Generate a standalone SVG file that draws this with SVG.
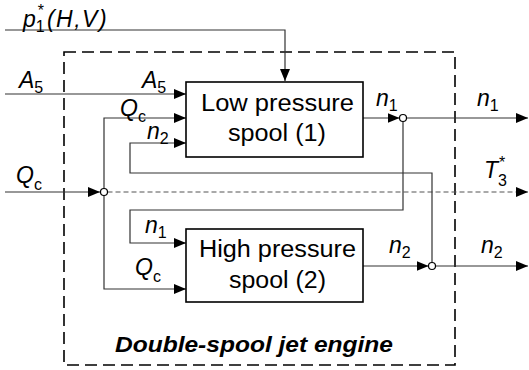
<svg xmlns="http://www.w3.org/2000/svg" width="529" height="370" viewBox="0 0 529 370">
<defs>
<marker id="arr" viewBox="0 0 12 10" refX="12" refY="5" markerWidth="12" markerHeight="10" markerUnits="userSpaceOnUse" orient="auto">
<path d="M0,0 L12,5 L0,10 Z" fill="#000"/>
</marker>
</defs>
<style>
.ln{fill:none;stroke:#333;stroke-width:1.2}
.dl{fill:none;stroke:#555;stroke-width:1.2;stroke-dasharray:5,3}
.box{fill:#fff;stroke:#000;stroke-width:1.6}
.frame{fill:none;stroke:#000;stroke-width:1.6;stroke-dasharray:12,6}
.dot{fill:#fff;stroke:#000;stroke-width:1.2}
.v{font-family:"Liberation Sans",Arial,sans-serif;font-style:italic;font-size:23px;fill:#000}
.s{font-family:"Liberation Sans",Arial,sans-serif;font-style:normal;font-size:16px;fill:#000}
.bt{font-family:"Liberation Sans",Arial,sans-serif;font-size:23px;fill:#000}
.title{font-family:"Liberation Sans",Arial,sans-serif;font-size:22px;font-weight:bold;font-style:italic;fill:#000}
</style>
<rect id="frame" class="frame" x="64" y="52" width="391" height="313"/>
<g id="connectors">
<path class="ln" d="M5,30 H285 V81" marker-end="url(#arr)"/>
<path class="ln" d="M5,94 H186" marker-end="url(#arr)"/>
<path class="ln" d="M5,192 H100" marker-end="url(#arr)"/>
<path class="dl" d="M107.5,192 H528" marker-end="url(#arr)"/>
<path class="ln" d="M104,188.5 V118 H186" marker-end="url(#arr)"/>
<path class="ln" d="M104,195.5 V289 H186" marker-end="url(#arr)"/>
<path class="ln" d="M432,262.5 V173 H130 V143 H186" marker-end="url(#arr)"/>
<path class="ln" d="M403,121.5 V210 H130 V243 H186" marker-end="url(#arr)"/>
<path class="ln" d="M363,118 H399.5" marker-end="url(#arr)"/>
<path class="ln" d="M406.5,118 H528" marker-end="url(#arr)"/>
<path class="ln" d="M363,266 H428.5" marker-end="url(#arr)"/>
<path class="ln" d="M435.5,266 H528" marker-end="url(#arr)"/>
<circle class="dot" cx="104" cy="192" r="3.5"/>
<circle class="dot" cx="403" cy="118" r="3.5"/>
<circle class="dot" cx="432" cy="266" r="3.5"/>
</g>
<g id="lp">
<rect class="box" x="186" y="82" width="177" height="75"/>
<text class="bt" x="201" y="111" textLength="153" lengthAdjust="spacingAndGlyphs">Low pressure</text>
<text class="bt" x="228" y="141" textLength="98" lengthAdjust="spacingAndGlyphs">spool (1)</text>
</g>
<g id="hp">
<rect class="box" x="186" y="229" width="177" height="73"/>
<text class="bt" x="199" y="257" textLength="157" lengthAdjust="spacingAndGlyphs">High pressure</text>
<text class="bt" x="229" y="288" textLength="97" lengthAdjust="spacingAndGlyphs">spool (2)</text>
</g>
<g id="labels">
<text class="v" x="23" y="27">p<tspan class="s" dy="5">1</tspan><tspan class="s" dx="-7" dy="-16">*</tspan><tspan dx="3" dy="11" letter-spacing="1.5">(H,V)</tspan></text>
<text class="v" x="19" y="88">A<tspan class="s" dy="5">5</tspan></text>
<text class="v" x="142" y="88">A<tspan class="s" dy="5">5</tspan></text>
<text class="v" x="120" y="116">Q<tspan class="s" dy="6">c</tspan></text>
<text class="v" x="147" y="139">n<tspan class="s" dy="5">2</tspan></text>
<text class="v" x="16" y="183">Q<tspan class="s" dy="7">c</tspan></text>
<text class="v" x="145" y="233">n<tspan class="s" dy="5">1</tspan></text>
<text class="v" x="135" y="275">Q<tspan class="s" dy="7">c</tspan></text>
<text class="v" x="376" y="106">n<tspan class="s" dy="5">1</tspan></text>
<text class="v" x="477" y="106">n<tspan class="s" dy="5">1</tspan></text>
<text class="v" x="484" y="178">T<tspan class="s" dy="8">3</tspan><tspan class="s" dx="-8" dy="-18">*</tspan></text>
<text class="v" x="389" y="253">n<tspan class="s" dy="5">2</tspan></text>
<text class="v" x="481" y="253">n<tspan class="s" dy="5">2</tspan></text>
<text class="title" x="115" y="352" textLength="278" lengthAdjust="spacingAndGlyphs">Double-spool jet engine</text>
</g>
</svg>
